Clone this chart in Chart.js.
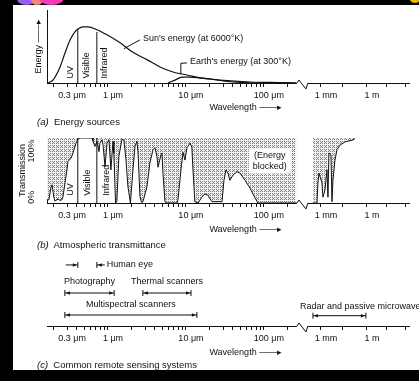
<!DOCTYPE html>
<html>
<head>
<meta charset="utf-8">
<script src="https://cdn.jsdelivr.net/npm/chart.js@4.4.1/dist/chart.umd.min.js"></script>
<style>
  html, body { margin: 0; padding: 0; background: #000; }
  #page { position: relative; width: 419px; height: 381px; overflow: hidden; background: #000; }
  #paper { position: absolute; left: 13px; top: 5px; width: 406px; height: 365px; background: #fff; }
  canvas { position: absolute; left: 0; }
  .cap { position: absolute; left: 37px; font: 9.5px "Liberation Sans", Arial, sans-serif; color: #111; white-space: nowrap; line-height: 11px; }
  .blob { position: absolute; border-radius: 50%; }
</style>
</head>
<body>
<div id="page">
  <div class="blob" style="left:17px;top:-7px;width:19px;height:12px;background:#9a5cf2"></div>
  <div class="blob" style="left:31px;top:-6px;width:12px;height:11px;background:#f2857a"></div>
  <div class="blob" style="left:39px;top:-9px;width:25px;height:14px;background:#f03cb0"></div>
  <div class="blob" style="left:410px;top:-4px;width:10px;height:7px;background:#e8b400"></div>
  <div id="paper"></div>
  <canvas id="panelA" width="419" height="117" style="top:0"></canvas>
  <canvas id="panelB" width="419" height="115" style="top:125px"></canvas>
  <canvas id="panelC" width="419" height="120" style="top:250px"></canvas>
  <div class="cap" style="top:116px"><i>(a)</i>&nbsp; Energy sources</div>
  <div class="cap" style="top:239px"><i>(b)</i>&nbsp; Atmospheric transmittance</div>
  <div class="cap" style="top:359px"><i>(c)</i>&nbsp; Common remote sensing systems</div>
</div>
<script>
// Electromagnetic spectrum figure: energy sources, atmospheric windows, sensing systems

// Axis ticks (wavelength in micrometres)
const tickWl   = [0.3, 1, 10, 100, 1e3, 1e6];
const tickText = ['0.3 μm', '1 μm', '10 μm', '100 μm', '1 mm', '1 m'];
const minorWl  = [0.2, 0.4, 0.5, 0.6, 0.7, 0.8, 0.9, 2, 3, 4, 5, 6, 7, 8, 9,
                  20, 30, 40, 50, 60, 70, 80, 90, 200, 2.7e4, 2e7, 3.5e8];

// UV / visible / infrared boundaries
const bandEdges = [0.41, 0.72];
const bandTopA  = [74, 70];
const bandTopB  = [100, 100];

// (a) Energy sources
const sunWl   = [0.17, 0.197, 0.243, 0.281, 0.326, 0.377, 0.412, 0.478, 0.554, 0.723, 0.971,
                 1.43, 2.09, 3.16, 4.64, 6.81, 10.3, 15.1, 20.3, 40.1, 109, 260];
const sunE    = [0, 4, 22, 41, 59, 70, 74, 77, 77, 73, 66, 55, 42, 32, 22, 15, 11, 7, 5.5, 1.4, 0.2, 0];
const earthWl = [5.88, 7.23, 8.89, 11.3, 15.1, 27.3, 66.2, 160, 257];
const earthE  = [0, 4, 8, 8, 7, 4, 1.4, 0.5, 0];
const sunLeaderWl   = [1.6, 2.57];
const sunLeaderE    = [47, 59];
const earthLeaderWl = [8.6, 8.6, 10.3];
const earthLeaderE  = [12, 27, 27.5];

// (b) Atmospheric transmittance, %
const transWl = [0.165, 0.175, 0.186, 0.191, 0.203, 0.209, 0.229, 0.243, 0.257, 0.265,
                 0.281, 0.298, 0.307, 0.336, 0.356, 0.389, 0.412, 0.438, 0.624, 0.642,
                 0.681, 0.723, 0.767, 0.789, 0.838, 0.863, 0.916, 0.971, 1.03, 1.09,
                 1.16, 1.19, 1.25, 1.30, 1.38, 1.51, 1.60, 1.70, 1.80, 1.94,
                 2.09, 2.22, 2.35, 2.43, 2.57, 2.69, 2.81, 3.16, 3.45, 3.78,
                 4.00, 4.25, 4.38, 4.78, 4.92, 5.07, 5.38, 5.71, 7.67, 7.89,
                 8.63, 9.16, 9.71, 10.3, 11.3, 11.9, 12.3, 13.0, 14.3, 16.0,
                 17.5, 19.1, 21.5, 29.0, 30.7, 32.6, 34.5, 36.6, 40.1, 45.1,
                 49.2, 57.1, 66.2, 76.7, 83.8, 260];
const transT  = [5, 5, 25, 28, 8, 3, 6, 4, 5, 10,
                 31, 51, 64, 69, 77, 92, 98, 100, 100, 95,
                 87, 95, 79, 92, 97, 90, 56, 92, 97, 51,
                 95, 77, 0, 3, 72, 98, 97, 67, 26, 0,
                 51, 87, 95, 77, 10, 1, 2, 25, 62, 82,
                 85, 71, 55, 74, 77, 46, 2, 0, 0, 5,
                 51, 78, 66, 85, 92, 86, 51, 2, 0, 9,
                 14, 12, 2, 2, 35, 51, 46, 35, 43, 48,
                 46, 35, 23, 8, 0, 0];
const trans2Wl = [301, 548, 637, 741, 1162, 1350, 1823, 2462, 2862, 3326,
                  4490, 5220, 6070, 8190, 11060, 17350, 36800, 1.22e5, 1.65e5];
const trans2T  = [0, 0, 31, 46, 31, 9, 20, 51, 9, 77, 74, 2, 35, 66, 82, 89, 94, 97, 99];

// (c) Common remote sensing systems
const rangeNames = ['Photography', 'Thermal scanners', 'Multispectral scanners', 'Radar and passive microwave'];
const rangeFrom  = [0.28, 2.8, 0.28, 300];
const rangeTo    = [1.2, 11.6, 13.8, 8.5e5];
const rangeRow   = [1.86, 1.86, 0.62, 0.58];
const eyeRange   = [0.41, 0.72];
const eyeRow     = 3.44;

const FONT = '"Liberation Sans", Arial, Helvetica, sans-serif';
const INK = '#111';

Chart.defaults.font.family = FONT;
Chart.defaults.font.size = 9;
Chart.defaults.color = INK;
Chart.defaults.animation = false;
Chart.defaults.events = [];
Chart.defaults.plugins.legend.display = false;
Chart.defaults.plugins.tooltip.enabled = false;

// broken log axis: log10 below the break, squeezed decades after it
const BREAK_AT = 280;
function pos(um) {
    const l = Math.log10(um);
    return um < BREAK_AT ? l : 2.731 + (l - 3) * 0.1966;
}
const X_MIN = -0.782;
const X_MAX = 3.86;
const BREAK_U = [2.423, 2.564];

const axisTicks = tickWl.map((w, i) => ({ w, text: tickText[i] }))
    .concat(minorWl.map(w => ({ w, text: '' })))
    .sort((a, b) => a.w - b.w);

const pts = (wl, v) => wl.map((w, i) => ({ x: pos(w), y: v[i] }));

function line(data, extra) {
    return Object.assign({
        data, borderColor: INK, borderWidth: 1, pointRadius: 0, tension: 0, fill: false,
    }, extra || {});
}

function xAxis(h) {
    return {
        type: 'linear', min: X_MIN, max: X_MAX,
        afterFit(s) { s.height = h; },
        afterBuildTicks(s) { s.ticks = axisTicks.map(t => ({ value: pos(t.w) })); },
        ticks: {
            autoSkip: false, maxRotation: 0, minRotation: 0, padding: 3, labelOffset: 5,
            callback: (v, i) => axisTicks[i].text,
        },
        grid: { drawOnChartArea: false, tickLength: 4, color: INK },
        border: { color: INK, width: 1 },
    };
}

// ordered-dither dot screen for the "blocked" shading
function stipple() {
    const bayer = [[0, 8, 2, 10], [12, 4, 14, 6], [3, 11, 1, 9], [15, 7, 13, 5]];
    const c = document.createElement('canvas');
    c.width = 4; c.height = 4;
    const g = c.getContext('2d');
    g.fillStyle = '#f2f2f2';
    g.fillRect(0, 0, 4, 4);
    g.fillStyle = '#7c7c7c';
    bayer.forEach((row, r) => row.forEach((t, k) => { if (t < 5) g.fillRect(k, r, 1, 1); }));
    return g.createPattern(c, 'repeat');
}

// text drawn at wavelength / value positions
function notes(items) {
    return {
        id: 'notes',
        afterDraw(chart) {
            const { ctx, chartArea, scales: { x, y } } = chart;
            items.forEach(it => {
                const px = x.getPixelForValue(pos(it.wl)) + (it.dx || 0);
                const py = (it.v === undefined ? chartArea.bottom : y.getPixelForValue(it.v)) + (it.dy || 0);
                ctx.save();
                ctx.translate(px, py);
                if (it.rot) ctx.rotate(it.rot * Math.PI / 180);
                if (it.box) {
                    ctx.fillStyle = '#fff';
                    ctx.fillRect(-it.box[0] / 2, -it.box[1] / 2, it.box[0], it.box[1]);
                }
                if (it.text) {
                    ctx.font = `${it.size || 9}px ${FONT}`;
                    ctx.fillStyle = INK;
                    ctx.textAlign = it.align || 'left';
                    ctx.textBaseline = 'middle';
                    ctx.fillText(it.text, 0, 0);
                }
                ctx.restore();
            });
        },
    };
}

const axisBreak = {
    id: 'axisBreak',
    afterDraw(chart) {
        const { ctx, chartArea, scales: { x } } = chart;
        const x0 = x.getPixelForValue(BREAK_U[0]);
        const x1 = x.getPixelForValue(BREAK_U[1]);
        const yb = chartArea.bottom;
        ctx.save();
        ctx.fillStyle = '#fff';
        ctx.fillRect(x0, yb - 2, x1 - x0, 5);
        ctx.strokeStyle = INK;
        ctx.lineWidth = 1;
        ctx.beginPath();
        ctx.moveTo(x0, yb);
        ctx.lineTo(x0 + 2, yb - 3);
        ctx.lineTo(x1 - 2, yb + 6);
        ctx.lineTo(x1, yb);
        ctx.stroke();
        ctx.restore();
    },
};

const rangeMarks = {
    id: 'rangeMarks',
    afterDatasetsDraw(chart) {
        const { ctx, scales: { x, y } } = chart;
        ctx.save();
        ctx.fillStyle = INK;
        ctx.strokeStyle = INK;
        ctx.lineWidth = 1;
        const head = (tip, py, dir) => {
            ctx.beginPath();
            ctx.moveTo(tip, py);
            ctx.lineTo(tip - dir * 4, py - 1.8);
            ctx.lineTo(tip - dir * 4, py + 1.8);
            ctx.closePath();
            ctx.fill();
        };
        rangeFrom.forEach((f, i) => {
            const py = y.getPixelForValue(rangeRow[i]);
            head(x.getPixelForValue(pos(f)) + 1, py, -1);
            head(x.getPixelForValue(pos(rangeTo[i])) - 1, py, 1);
        });
        // human eye: arrows pointing in from outside
        const py = y.getPixelForValue(eyeRow);
        const a = x.getPixelForValue(pos(eyeRange[0]));
        const b = x.getPixelForValue(pos(eyeRange[1]));
        ctx.beginPath();
        ctx.moveTo(a - 12, py); ctx.lineTo(a, py);
        ctx.moveTo(a, py - 3); ctx.lineTo(a, py + 3);
        ctx.moveTo(b + 8, py); ctx.lineTo(b, py);
        ctx.moveTo(b, py - 3); ctx.lineTo(b, py + 3);
        ctx.stroke();
        head(a - 1, py, 1);
        head(b + 1, py, -1);
        ctx.restore();
    },
};

const vline = (w, top) => line([{ x: pos(w), y: 0 }, { x: pos(w), y: top }]);

// ---- (a) Energy sources ----
new Chart(document.getElementById('panelA'), {
    type: 'line',
    data: {
        datasets: [
            line(pts(sunWl, sunE), { cubicInterpolationMode: 'monotone', borderWidth: 1.2 }),
            line(pts(earthWl, earthE), { cubicInterpolationMode: 'monotone', borderWidth: 1.2 }),
            vline(bandEdges[0], bandTopA[0]),
            vline(bandEdges[1], bandTopA[1]),
            line(pts(sunLeaderWl, sunLeaderE)),
            line(pts(earthLeaderWl, earthLeaderE)),
        ],
    },
    options: {
        responsive: false,
        layout: { autoPadding: false, padding: { left: 0, right: 10, top: 10, bottom: 0 } },
        scales: {
            x: xAxis(34),
            y: {
                min: 0, max: 100,
                afterFit(s) { s.width = 47; },
                ticks: { display: false },
                grid: { display: false },
                border: { color: INK, width: 1 },
                title: { display: true, text: 'Energy ——▸', padding: { top: 33, bottom: 0 } },
            },
        },
    },
    plugins: [notes([
        { text: 'UV', wl: 0.326, v: 6, rot: -90 },
        { text: 'Visible', wl: 0.538, v: 6, rot: -90 },
        { text: 'Infrared', wl: 0.916, v: 6, rot: -90 },
        { text: "Sun's energy (at 6000°K)", wl: 2.81, v: 61.6 },
        { text: "Earth's energy (at 300°K)", wl: 11.3, v: 28.8 },
        { text: 'Wavelength ——▸', wl: 20, dy: 25 },
    ]), axisBreak],
});

// ---- (b) Atmospheric transmittance ----
const transPts = pts(transWl, transT)
    .concat([{ x: (pos(transWl[transWl.length - 1]) + pos(trans2Wl[0])) / 2, y: null }])
    .concat(pts(trans2Wl, trans2T));

new Chart(document.getElementById('panelB'), {
    type: 'line',
    data: {
        datasets: [
            vline(bandEdges[0], bandTopB[0]),
            vline(bandEdges[1], bandTopB[1]),
            line(transPts, { fill: 'end', backgroundColor: stipple(), spanGaps: false }),
        ],
    },
    options: {
        responsive: false,
        layout: { autoPadding: false, padding: { left: 0, right: 10, top: 13, bottom: 0 } },
        scales: {
            x: xAxis(37),
            y: {
                min: 0, max: 100,
                afterFit(s) { s.width = 47; },
                ticks: { display: false },
                grid: { display: false },
                border: { color: INK, width: 1 },
                title: { display: true, text: 'Transmission', padding: { top: 17, bottom: 0 } },
            },
        },
    },
    plugins: [notes([
        { box: [42, 25], wl: 119, v: 64.5 },
        { text: '(Energy', wl: 119, v: 73.5, align: 'center' },
        { text: 'blocked)', wl: 119, v: 55.5, align: 'center' },
        { text: 'UV', wl: 0.326, v: 11, rot: -90 },
        { text: 'Visible', wl: 0.554, v: 11, rot: -90 },
        { text: 'Infrared', wl: 0.971, v: 11, rot: -90 },
        { text: '100%', wl: 0.106, v: 80, rot: -90, align: 'center' },
        { text: '0%', wl: 0.106, v: 9, rot: -90, align: 'center' },
        { text: 'Wavelength ——▸', wl: 20, dy: 27 },
    ]), axisBreak],
});

// ---- (c) Common remote sensing systems ----
const rangeSets = rangeFrom.map((f, i) => line(
    [{ x: pos(f), y: rangeRow[i] }, { x: pos(rangeTo[i]), y: rangeRow[i] }],
    { pointRadius: 3, pointStyle: 'line', rotation: 90, pointBorderWidth: 1, pointBorderColor: INK }
));
const midWl = i => Math.pow(10, (Math.log10(rangeFrom[i]) + Math.log10(rangeTo[i])) / 2);

new Chart(document.getElementById('panelC'), {
    type: 'line',
    data: { datasets: rangeSets },
    options: {
        responsive: false,
        layout: { autoPadding: false, padding: { left: 47, right: 10, top: 5, bottom: 0 } },
        scales: {
            x: xAxis(44),
            y: { display: false, min: 0, max: 4 },
        },
    },
    plugins: [rangeMarks, notes([
        { text: 'Human eye', wl: eyeRange[1], v: eyeRow, dx: 10 },
        { text: rangeNames[0], wl: midWl(0), v: rangeRow[0], dy: -11, align: 'center' },
        { text: rangeNames[1], wl: midWl(1), v: rangeRow[1], dy: -11, align: 'center' },
        { text: rangeNames[2], wl: midWl(2), v: rangeRow[2], dy: -10, align: 'center' },
        { text: rangeNames[3], wl: rangeFrom[3], v: rangeRow[3], dx: -13, dy: -9 },
        { text: 'Wavelength ——▸', wl: 20, dy: 27 },
    ]), axisBreak],
});
</script>
</body>
</html>
